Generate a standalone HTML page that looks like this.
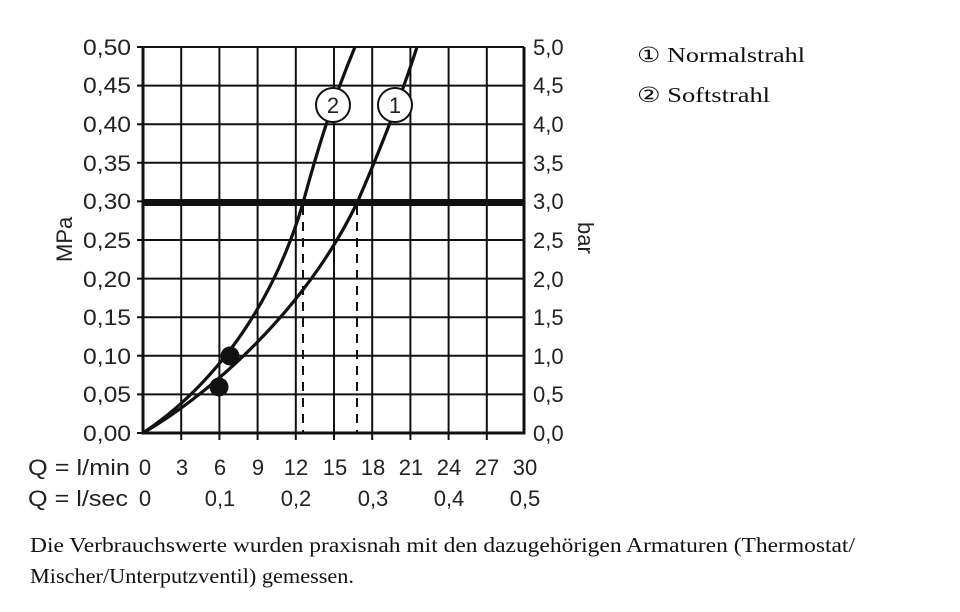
<!DOCTYPE html>
<html><head><meta charset="utf-8"><style>
body{margin:0;background:#fff;width:960px;height:612px;overflow:hidden}
svg{display:block}
.t{font-family:"Liberation Sans",sans-serif;font-size:22px;fill:#222}
.s{font-family:"Liberation Serif",serif;font-size:21px;fill:#111}
</style></head><body>
<svg width="960" height="612" viewBox="0 0 960 612">
<g stroke="#111" stroke-width="2" fill="none">
<path d="M181.2 47V433M219.4 47V433M257.6 47V433M295.8 47V433M334 47V433M372.2 47V433M410.4 47V433M448.6 47V433M486.8 47V433"/>
<path d="M143 85.6H524M143 124.2H524M143 162.8H524M143 240H524M143 278.6H524M143 317.2H524M143 355.8H524M143 394.4H524"/>
<path d="M137 47H524M137 85.6H143M137 124.2H143M137 162.8H143M137 201.4H143M137 240H143M137 278.6H143M137 317.2H143M137 355.8H143M137 394.4H143M137 433H143"/>
<path d="M181.2 433v7M219.4 433v7M257.6 433v7M295.8 433v7M334 433v7M372.2 433v7M410.4 433v7M448.6 433v7M486.8 433v7"/>
<path d="M143 47V433H524V47" stroke-width="3"/>
</g>
<path d="M143 202.5H524" stroke="#111" stroke-width="7"/>
<path d="M303 206V433M357 206V433" stroke="#111" stroke-width="2" stroke-dasharray="9,7"/>
<g stroke="#111" stroke-width="3.2" fill="none">
<path d="M143,433 C200,400 300,320 357,203 C380,150 400,100 417,47"/>
<path d="M143,433 C200,395 268,322 303,203 C320,140 335,95 355,47"/>
</g>
<circle cx="219" cy="387" r="9.5" fill="#111"/>
<circle cx="230" cy="356" r="9.5" fill="#111"/>
<circle cx="333" cy="105" r="17" fill="#fff" stroke="#111" stroke-width="2"/>
<circle cx="395" cy="105" r="17" fill="#fff" stroke="#111" stroke-width="2"/>
<text class="t" x="333" y="113" text-anchor="middle" font-size="23">2</text>
<text class="t" x="395" y="113" text-anchor="middle" font-size="23">1</text>
<g class="t">
<text x="83" y="55" textLength="48" lengthAdjust="spacingAndGlyphs">0,50</text>
<text x="83" y="93" textLength="48" lengthAdjust="spacingAndGlyphs">0,45</text>
<text x="83" y="132" textLength="48" lengthAdjust="spacingAndGlyphs">0,40</text>
<text x="83" y="171" textLength="48" lengthAdjust="spacingAndGlyphs">0,35</text>
<text x="83" y="209" textLength="48" lengthAdjust="spacingAndGlyphs">0,30</text>
<text x="83" y="248" textLength="48" lengthAdjust="spacingAndGlyphs">0,25</text>
<text x="83" y="287" textLength="48" lengthAdjust="spacingAndGlyphs">0,20</text>
<text x="83" y="325" textLength="48" lengthAdjust="spacingAndGlyphs">0,15</text>
<text x="83" y="364" textLength="48" lengthAdjust="spacingAndGlyphs">0,10</text>
<text x="83" y="402" textLength="48" lengthAdjust="spacingAndGlyphs">0,05</text>
<text x="83" y="441" textLength="48" lengthAdjust="spacingAndGlyphs">0,00</text>
</g>
<g class="t">
<text x="533" y="55">5,0</text><text x="533" y="93">4,5</text><text x="533" y="132">4,0</text>
<text x="533" y="171">3,5</text><text x="533" y="209">3,0</text><text x="533" y="248">2,5</text>
<text x="533" y="287">2,0</text><text x="533" y="325">1,5</text><text x="533" y="364">1,0</text>
<text x="533" y="402">0,5</text><text x="533" y="441">0,0</text>
</g>
<text class="t" transform="translate(72,262) rotate(-90)" font-size="21">MPa</text>
<text class="t" transform="translate(578,222) rotate(90)" font-size="21">bar</text>
<g class="t" text-anchor="middle">
<text x="145" y="475">0</text><text x="182" y="475">3</text><text x="220" y="475">6</text>
<text x="258" y="475">9</text><text x="296" y="475">12</text><text x="335" y="475">15</text>
<text x="373" y="475">18</text><text x="411" y="475">21</text><text x="449" y="475">24</text>
<text x="487" y="475">27</text><text x="525" y="475">30</text>
<text x="145" y="506">0</text><text x="220" y="506">0,1</text><text x="296" y="506">0,2</text>
<text x="373" y="506">0,3</text><text x="449" y="506">0,4</text><text x="525" y="506">0,5</text>
</g>
<text class="t" x="28" y="475" textLength="102" lengthAdjust="spacingAndGlyphs">Q = l/min</text>
<text class="t" x="28" y="506" textLength="100" lengthAdjust="spacingAndGlyphs">Q = l/sec</text>
<text class="s" x="637" y="62" textLength="168" lengthAdjust="spacingAndGlyphs">① Normalstrahl</text>
<text class="s" x="637" y="102" textLength="133" lengthAdjust="spacingAndGlyphs">② Softstrahl</text>
<text class="s" x="30" y="552" textLength="825" lengthAdjust="spacingAndGlyphs">Die Verbrauchswerte wurden praxisnah mit den dazugehörigen Armaturen (Thermostat/</text>
<text class="s" x="30" y="583" textLength="324" lengthAdjust="spacingAndGlyphs">Mischer/Unterputzventil) gemessen.</text>
</svg>
</body></html>
